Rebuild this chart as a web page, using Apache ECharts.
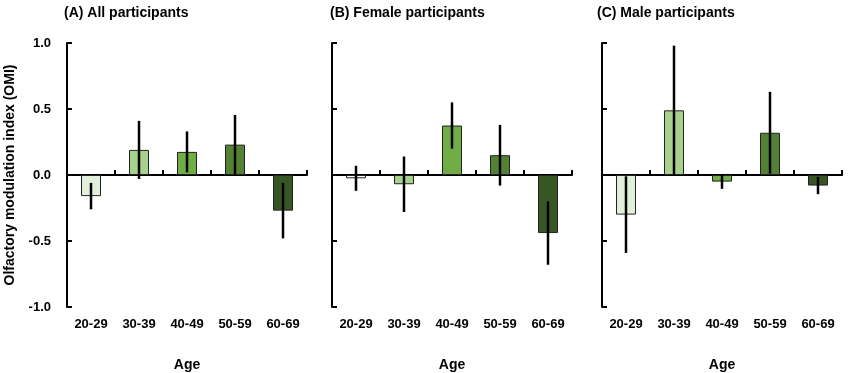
<!DOCTYPE html>
<html>
<head>
<meta charset="utf-8">
<script src="https://cdn.jsdelivr.net/npm/echarts@6/dist/echarts.min.js"></script>
<style>html,body{margin:0;padding:0;background:#fff;}#c{width:850px;height:373px;}</style>
</head>
<body>
<div id="c"></div>
<script>
const categories = ['20-29', '30-39', '40-49', '50-59', '60-69'];
const yTicks = [-1.0, -0.5, 0.0, 0.5, 1.0];

const meanAll = [-0.16, 0.19, 0.175, 0.23, -0.27];
const errAll = [0.10, 0.22, 0.155, 0.225, 0.21];

const meanFemale = [-0.025, -0.07, 0.375, 0.15, -0.44];
const errFemale = [0.095, 0.21, 0.175, 0.23, 0.24];

const meanMale = [-0.30, 0.49, -0.05, 0.32, -0.08];
const errMale = [0.29, 0.49, 0.055, 0.31, 0.065];

const colorsAll = ['#e2efda', '#a9d18e', '#70ad47', '#548235', '#375623'];
const colorsFemale = ['#ffffff', '#a9d18e', '#70ad47', '#548235', '#375623'];
const colorsMale = ['#e2efda', '#a9d18e', '#70ad47', '#548235', '#375623'];

const panelTitles = ['(A) All participants', '(B) Female participants', '(C) Male participants'];
const yName = 'Olfactory modulation index (OMI)';
const xName = 'Age';

const panels = [
  {mean: meanAll, err: errAll, colors: colorsAll},
  {mean: meanFemale, err: errFemale, colors: colorsFemale},
  {mean: meanMale, err: errMale, colors: colorsMale}
];

const FONT = 'Liberation Sans, Arial, sans-serif';
const gridLefts = [67, 332, 602];
const titleLefts = [59, 325, 592];

const option = {
  animation: false,
  backgroundColor: '#fff',
  title: panelTitles.map((t, i) => ({
    text: t, left: titleLefts[i], top: 1,
    textStyle: {fontFamily: FONT, fontWeight: 'bold', fontSize: 14, color: '#000'}
  })),
  grid: gridLefts.map(l => ({left: l, top: 43, width: 240, height: 264, containLabel: false, outerBoundsMode: 'none'})),
  xAxis: [],
  yAxis: [],
  series: []
};

panels.forEach((p, i) => {
  // zero-line axis
  option.xAxis.push({
    type: 'category', gridIndex: i, data: categories, position: 'bottom',
    axisLine: {onZero: true, lineStyle: {color: '#000', width: 2}},
    axisTick: {show: true, inside: true, length: 5, lineStyle: {color: '#000', width: 2}},
    axisLabel: {show: false}, splitLine: {show: false}
  });
  // label axis at bottom
  option.xAxis.push({
    type: 'category', gridIndex: i, data: categories, position: 'bottom',
    axisLine: {show: false, onZero: false}, axisTick: {show: false},
    axisLabel: {show: true, margin: 11, fontFamily: FONT, fontWeight: 'bold', fontSize: 13, color: '#000'},
    name: xName, nameLocation: 'middle', nameGap: 51,
    nameTextStyle: {fontFamily: FONT, fontWeight: 'bold', fontSize: 14, color: '#000'},
    splitLine: {show: false}
  });
  option.yAxis.push({
    type: 'value', gridIndex: i, min: yTicks[0], max: yTicks[yTicks.length - 1], interval: 0.5,
    axisLine: {show: true, lineStyle: {color: '#000', width: 2}},
    axisTick: {show: true, inside: true, length: 5, lineStyle: {color: '#000', width: 2}},
    axisLabel: {show: i === 0, margin: 16, formatter: v => v.toFixed(1),
      fontFamily: FONT, fontWeight: 'bold', fontSize: 13, color: '#000'},
    splitLine: {show: false},
    name: i === 0 ? yName : '', nameLocation: 'middle', nameGap: 50, nameRotate: 90,
    nameTextStyle: {fontFamily: FONT, fontWeight: 'bold', fontSize: 14, color: '#000'}
  });
  option.series.push({
    type: 'bar', xAxisIndex: i * 2, yAxisIndex: i, barWidth: 20,
    data: p.mean.map((v, k) => ({value: v, itemStyle: {color: p.colors[k], borderColor: '#222', borderWidth: 1}})),
    z: 2
  });
  option.series.push({
    type: 'custom', xAxisIndex: i * 2, yAxisIndex: i, z: 5,
    data: p.mean.map((v, k) => [k, v - p.err[k], v + p.err[k]]),
    encode: {x: 0, y: [1, 2]},
    renderItem: function (params, api) {
      const x = api.value(0);
      const lo = api.coord([x, api.value(1)]);
      const hi = api.coord([x, api.value(2)]);
      return {type: 'line', shape: {x1: lo[0], y1: lo[1], x2: hi[0], y2: hi[1]},
        style: {stroke: '#000', lineWidth: 2.5}};
    }
  });
});

const chart = echarts.init(document.getElementById('c'), null, {renderer: 'canvas'});
chart.setOption(option);
</script>
</body>
</html>
